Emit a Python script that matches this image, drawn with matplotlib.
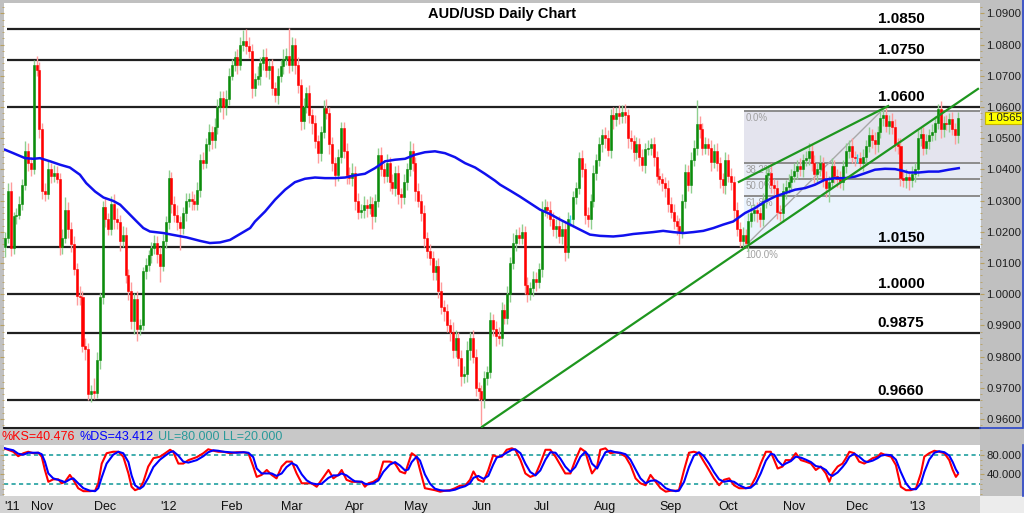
import numpy as np
import pandas as pd
import matplotlib
matplotlib.use("Agg")
import matplotlib.pyplot as plt
from matplotlib.patches import Rectangle
from matplotlib.lines import Line2D
from matplotlib.ticker import MultipleLocator, FuncFormatter
import matplotlib.transforms as mtransforms

plt.rcParams['font.family'] = ['Liberation Sans', 'DejaVu Sans']

# --- datos: cierres diarios AUD/USD (desde 13-oct-2011) ---
first_open = 1.0150
closes = [
    1.0180, 1.0330, 1.0148, 1.0250, 1.0255, 1.0290, 1.0350, 1.0460, 1.0420, 1.0400,
    1.0735, 1.0720, 1.0530, 1.0330, 1.0320, 1.0400, 1.0380, 1.0390, 1.0370, 1.0150,
    1.0180, 1.0270, 1.0210, 1.0160, 1.0080, 0.9995, 0.9990, 0.9835, 0.9825, 0.9680,
    0.9690, 0.9683, 0.9790, 0.9990, 1.0280, 1.0240, 1.0210, 1.0290, 1.0240, 1.0233,
    1.0170, 1.0190, 1.0060, 1.0010, 0.9913, 0.9985, 0.9890, 0.9900, 1.0073, 1.0095,
    1.0126, 1.0148, 1.0165, 1.0130, 1.0090, 1.0169, 1.0230, 1.0372, 1.0290, 1.0255,
    1.0230, 1.0212, 1.0260, 1.0300, 1.0305, 1.0300, 1.0290, 1.0335, 1.0430, 1.0420,
    1.0480, 1.0520, 1.0495, 1.0535, 1.0600, 1.0630, 1.0600, 1.0625, 1.0700, 1.0735,
    1.0760, 1.0735, 1.0800, 1.0810, 1.0795, 1.0778, 1.0660, 1.0690, 1.0700, 1.0740,
    1.0760, 1.0720, 1.0730, 1.0660, 1.0640, 1.0700, 1.0730, 1.0755, 1.0765, 1.0735,
    1.0800, 1.0735, 1.0671, 1.0555, 1.0600, 1.0645, 1.0575, 1.0550, 1.0490, 1.0452,
    1.0520, 1.0596, 1.0580, 1.0480, 1.0420, 1.0383, 1.0440, 1.0532, 1.0460, 1.0383,
    1.0372, 1.0390, 1.0300, 1.0265, 1.0270, 1.0285, 1.0276, 1.0290, 1.0250, 1.0300,
    1.0447, 1.0400, 1.0380, 1.0420, 1.0360, 1.0340, 1.0390, 1.0320, 1.0310, 1.0360,
    1.0400, 1.0460, 1.0420, 1.0330, 1.0300, 1.0260, 1.0180, 1.0140, 1.0115, 1.0070,
    1.0090, 1.0009, 0.9960, 0.9945, 0.9900, 0.9880, 0.9820, 0.9860, 0.9795, 0.9737,
    0.9745, 0.9820, 0.9860, 0.9800, 0.9700, 0.9690, 0.9665, 0.9730, 0.9750, 0.9918,
    0.9890, 0.9865, 0.9860, 0.9950, 0.9925, 1.0000, 1.0100, 1.0165, 1.0190, 1.0180,
    1.0200, 1.0030, 1.0000, 1.0020, 1.0050, 1.0040, 1.0080, 1.0270, 1.0280, 1.0270,
    1.0240, 1.0210, 1.0220, 1.0185, 1.0210, 1.0135, 1.0240, 1.0240, 1.0310, 1.0340,
    1.0436, 1.0400, 1.0255, 1.0240, 1.0300, 1.0390, 1.0430, 1.0480, 1.0510, 1.0500,
    1.0463, 1.0575, 1.0560, 1.0580, 1.0570, 1.0585, 1.0575, 1.0500, 1.0490, 1.0457,
    1.0480, 1.0440, 1.0415, 1.0465, 1.0470, 1.0480, 1.0440, 1.0380, 1.0370, 1.0355,
    1.0340, 1.0290, 1.0265, 1.0234, 1.0220, 1.0200, 1.0300, 1.0393, 1.0350, 1.0430,
    1.0470, 1.0545, 1.0530, 1.0470, 1.0480, 1.0470, 1.0425, 1.0460, 1.0420, 1.0370,
    1.0350, 1.0430, 1.0380, 1.0360, 1.0270, 1.0210, 1.0170, 1.0190, 1.0165, 1.0235,
    1.0260, 1.0270, 1.0260, 1.0240, 1.0300, 1.0383, 1.0390, 1.0350, 1.0340, 1.0265,
    1.0260, 1.0330, 1.0345, 1.0360, 1.0380, 1.0395, 1.0410, 1.0400, 1.0430, 1.0435,
    1.0460, 1.0420, 1.0385, 1.0400, 1.0420, 1.0370, 1.0340, 1.0360, 1.0410, 1.0380,
    1.0370, 1.0360, 1.0410, 1.0460, 1.0475, 1.0440, 1.0435, 1.0435, 1.0420, 1.0440,
    1.0475, 1.0510, 1.0495, 1.0480, 1.0520, 1.0565, 1.0575, 1.0540, 1.0555, 1.0535,
    1.0480, 1.0475, 1.0372, 1.0365, 1.0375, 1.0365, 1.0385, 1.0400, 1.0500, 1.0515,
    1.0470, 1.0490, 1.0510, 1.0520, 1.0550, 1.0595, 1.0530, 1.0550, 1.0545, 1.0560,
    1.0530, 1.0510, 1.0565,
]
# mechas por encima / por debajo del cuerpo, en pips
hi_pips = [
    20, 25, 30, 15, 20, 25, 20, 30, 25, 20,  16, 30, 25, 20, 25, 30, 20, 25, 20, 20,
    30, 40, 25, 20, 25, 20, 30, 20, 25, 20,  20, 40, 25, 15, 20, 30, 20, 25, 30, 35,
    20, 30, 25, 20, 30, 20, 25, 20, 15, 20,  15, 20, 25, 20, 20, 25, 20, 25, 20, 25,
    30, 20, 20, 25, 20, 25, 20, 25, 20, 25,  20, 25, 20, 30, 25, 20, 20, 30, 25, 20,
    20, 25, 25, 38, 40, 30, 25, 20, 30, 20,  25, 30, 20, 25, 20, 25, 20, 30, 25, 88,
    25, 20, 25, 20, 30, 20, 25, 20, 25, 20,  20, 25, 30, 20, 25, 20, 25, 20, 20, 25,
    25, 30, 20, 25, 20, 30, 20, 25, 20, 20,  20, 25, 20, 30, 20, 25, 20, 25, 20, 25,
    20, 30, 25, 20, 25, 20, 25, 20, 20, 25,  20, 25, 30, 20, 25, 20, 30, 25, 20, 25,
    25, 30, 20, 25, 25, 20, 20, 25, 20, 25,  20, 25, 30, 25, 20, 25, 20, 30, 20, 25,
    25, 20, 25, 20, 25, 20, 20, 30, 25, 20,  30, 25, 20, 30, 25, 20, 25, 15, 20, 20,
    20, 25, 20, 25, 20, 25, 20, 25, 20, 25,  25, 20, 25, 20, 25, 20, 25, 20, 25, 20,
    25, 20, 25, 20, 25, 20, 25, 20, 25, 20,  20, 25, 20, 25, 20, 25, 20, 25, 20, 25,
    25, 78, 25, 20, 25, 20, 25, 20, 25, 20,  20, 25, 20, 25, 20, 25, 20, 25, 20, 25,
    25, 20, 25, 20, 25, 20, 25, 30, 20, 25,  20, 25, 20, 25, 20, 25, 20, 25, 20, 25,
    25, 20, 25, 20, 25, 20, 25, 20, 25, 20,  20, 25, 20, 25, 20, 25, 20, 15, 20, 25,
    20, 25, 20, 25, 20, 25, 20, 25, 20, 25,  25, 20, 25, 20, 25, 20, 25, 20, 25, 20,
    20, 25, 20, 25, 20, 15, 25, 20, 25, 20,  25, 20, 20,
]
lo_pips = [
    30, 15, 25, 20, 25, 15, 20, 15, 25, 20,  15, 20, 30, 25, 20, 15, 25, 20, 15, 25,
    20, 15, 30, 25, 20, 30, 25, 20, 35, 20,  25, 20, 15, 30, 20, 25, 20, 20, 30, 25,
    30, 20, 25, 30, 25, 40, 40, 20, 15, 25,  20, 25, 20, 30, 50, 15, 20, 20, 30, 25,
    25, 70, 20, 25, 20, 30, 20, 20, 25, 20,  15, 20, 30, 25, 20, 15, 40, 25, 20, 15,
    20, 30, 15, 20, 25, 20, 30, 25, 20, 30,  20, 25, 30, 20, 25, 30, 20, 25, 20, 25,
    20, 30, 25, 30, 25, 20, 25, 35, 20, 30,  25, 20, 20, 30, 25, 35, 20, 20, 25, 30,
    20, 25, 30, 25, 20, 25, 30, 20, 40, 20,  20, 20, 25, 20, 30, 20, 25, 30, 35, 20,
    25, 20, 25, 30, 20, 25, 30, 25, 20, 25,  25, 20, 25, 30, 20, 30, 25, 20, 25, 30,
    20, 25, 30, 20, 25, 30, 84, 30, 20, 20,  25, 30, 20, 25, 20, 20, 25, 20, 25, 20,
    20, 30, 25, 20, 25, 30, 20, 25, 20, 25,  20, 25, 30, 20, 25, 30, 20, 20, 25, 20,
    20, 25, 30, 25, 30, 20, 25, 20, 25, 30,  20, 25, 30, 20, 25, 20, 25, 30, 25, 30,
    25, 30, 20, 25, 20, 25, 30, 25, 20, 25,  30, 25, 20, 25, 30, 40, 20, 25, 20, 25,
    20, 25, 30, 25, 20, 25, 30, 20, 25, 30,  25, 30, 20, 25, 30, 25, 20, 20, 17, 25,
    20, 25, 30, 25, 20, 25, 20, 25, 30, 25,  25, 30, 25, 20, 25, 20, 25, 20, 25, 20,
    20, 25, 30, 25, 20, 25, 30, 45, 20, 25,  25, 20, 25, 20, 25, 20, 25, 15, 20, 25,
    25, 20, 25, 30, 25, 20, 25, 20, 25, 20,  20, 25, 25, 20, 25, 30, 20, 25, 20, 25,
    25, 20, 25, 20, 25, 20, 30, 25, 20, 25,  20, 30, 25,
]

# media movil (linea azul)
ma_day = [0, 2.9, 7, 9.9, 12.2, 15.7, 19.2, 22.6, 26.1, 28.3,
          31.4, 34.3, 37.7, 40.1, 43, 45.9, 48.2, 50.5, 55.2, 58.6,
          63.3, 67.9, 71.4, 74.9, 78.4, 81.9, 85.4, 87.1, 90.6, 94.1,
          97.6, 101, 104.5, 108, 111.5, 115, 118.5, 121.9, 125.4, 128.9,
          132.4, 135.9, 139.4, 142.8, 146.3, 149.8, 153.3, 156.8, 160.3, 163.8,
          167.2, 170.7, 172.5, 176, 179.4, 182.9, 186.4, 189.9, 193.4, 196.9,
          200.3, 203.8, 207.3, 211.9, 215.4, 218.9, 222.4, 225.8, 229.3, 232.8,
          236.3, 239.8, 243.3, 246.8, 250.2, 253.7, 257.8, 261.3, 264.8, 268.3,
          271.8, 275.3, 278.7, 282.2, 285.7, 289.2, 292.7, 296.2, 299.7, 303.1,
          306.6, 310.1, 312.5, 314.8, 318.3, 321.8, 325.3, 328.8, 332.3]
ma_val = [1.0463, 1.0452, 1.0436, 1.0434, 1.0436, 1.0426, 1.0415, 1.0406, 1.0383, 1.0356,
          1.0329, 1.0310, 1.0299, 1.0287, 1.0260, 1.0233, 1.0212, 1.0201, 1.0196, 1.0190,
          1.0182, 1.0171, 1.0164, 1.0166, 1.0174, 1.0193, 1.0212, 1.0233, 1.0265, 1.0303,
          1.0335, 1.0359, 1.0370, 1.0374, 1.0372, 1.0372, 1.0374, 1.0381, 1.0386, 1.0404,
          1.0426, 1.0431, 1.0434, 1.0447, 1.0455, 1.0458, 1.0452, 1.0439, 1.0420, 1.0406,
          1.0386, 1.0364, 1.0351, 1.0332, 1.0313, 1.0292, 1.0271, 1.0257, 1.0239, 1.0223,
          1.0207, 1.0191, 1.0187, 1.0185, 1.0188, 1.0193, 1.0196, 1.0199, 1.0203, 1.0199,
          1.0196, 1.0199, 1.0203, 1.0212, 1.0223, 1.0233, 1.0260, 1.0276, 1.0297, 1.0313,
          1.0324, 1.0335, 1.0340, 1.0351, 1.0367, 1.0372, 1.0372, 1.0377, 1.0388, 1.0399,
          1.0402, 1.0401, 1.0396, 1.0390, 1.0390, 1.0393, 1.0393, 1.0399, 1.0404]

# niveles horizontales
levels = [1.0850, 1.0750, 1.0600, 1.0150, 1.0000, 0.9875, 0.9660]

# retroceso de Fibonacci
fib_low, fib_high = 1.0148, 1.0588
fib_start = 257.5
fib_ratios = [0.0, 0.382, 0.5, 0.618, 1.0]
fib_colors = ['#e4e4ee', '#e6eaf4', '#e8eef8', '#eaf3fd']

# lineas de tendencia (dia, precio)
support_x, support_y = [166.2, 339.0], [0.9575, 1.0658]
channel_x, channel_y = [255.7, 307.7], [1.0360, 1.0603]
diag_x, diag_y = [257.5, 305.6], [1.0151, 1.0590]

# estocastico
k_day = [-0.6, 0.6, 2.9, 4.6, 6.4, 8.1, 9.9, 11.6, 12.8, 13.9,
         15.1, 16.8, 18.6, 19.7, 20.9, 22.6, 23.8, 25.5, 27.3, 29.6,
         31.4, 32.5, 33.7, 35.4, 37.7, 39.5, 41.2, 43.0, 44.1, 45.3,
         47.0, 48.2, 49.9, 51.7, 54.0, 55.8, 57.5, 58.6, 60.4, 62.1,
         63.9, 66.8, 69.1, 70.8, 72.6, 74.3, 76.1, 78.4, 80.7, 83.1,
         84.8, 86.5, 87.7, 89.4, 91.2, 92.9, 94.6, 96.4, 98.1, 99.9,
         101.6, 103.4, 105.1, 106.8, 108.6, 110.3, 112.7, 114.4, 116.1, 117.3,
         119.0, 120.8, 121.9, 124.3, 125.4, 126.6, 128.3, 130.1, 131.8, 134.1,
         135.9, 137.6, 139.4, 140.5, 141.7, 143.4, 144.6, 146.3, 148.1, 149.8,
         151.6, 153.3, 155.0, 156.8, 158.5, 160.3, 162.0, 163.2, 164.9, 166.7,
         168.4, 170.1, 171.3, 173.1, 174.8, 176.6, 177.8, 179.6, 181.3, 183.0,
         184.8, 186.5, 188.3, 190.0, 191.8, 193.5, 195.2, 197.0, 198.7, 200.5,
         202.2, 203.4, 204.5, 206.3, 207.4, 209.2, 210.9, 212.7, 214.4, 216.2,
         217.9, 219.7, 221.4, 223.2, 224.9, 226.7, 228.4, 230.2, 231.9, 233.7,
         234.8, 236.6, 238.3, 240.0, 241.8, 243.5, 245.3, 247.0, 248.8, 250.5,
         252.3, 254.0, 255.8, 258.1, 259.8, 261.6, 263.3, 265.1, 266.8, 268.0,
         269.2, 270.9, 272.0, 273.8, 275.5, 277.3, 279.0, 280.8, 282.5, 284.2,
         286.0, 287.2, 288.3, 290.1, 291.8, 293.0, 294.2, 295.9, 297.6, 299.4,
         300.5, 302.3, 304.0, 305.2, 306.9, 308.7, 310.4, 312.1, 313.9, 315.6,
         317.4, 319.1, 320.3, 322.0, 323.8, 325.5, 327.3, 329.0, 330.2, 331.3,
         332.0]
ks_val = [93, 91, 86, 77, 83, 86, 83, 84, 76, 49,
          25, 30, 30, 22, 25, 39, 29, 12, 6, 6,
          7, 22, 62, 83, 86, 86, 76, 42, 15, 8,
          12, 25, 56, 73, 76, 83, 90, 86, 62, 62,
          69, 75, 83, 91, 88, 86, 86, 83, 85, 85,
          83, 56, 35, 39, 49, 39, 32, 56, 66, 66,
          42, 22, 22, 22, 15, 29, 49, 32, 39, 49,
          29, 25, 25, 25, 15, 22, 25, 32, 66, 66,
          62, 46, 42, 62, 83, 76, 49, 12, 10, 8,
          5, 7, 8, 12, 17, 17, 29, 46, 29, 25,
          49, 79, 76, 76, 90, 93, 90, 69, 42, 35,
          39, 62, 90, 90, 76, 59, 42, 42, 69, 93,
          86, 62, 42, 56, 90, 93, 83, 85, 83, 76,
          59, 32, 22, 18, 39, 25, 12, 5, 7, 7,
          8, 49, 84, 86, 83, 66, 49, 32, 18, 29,
          32, 18, 12, 12, 15, 35, 62, 86, 86, 69,
          52, 56, 69, 69, 83, 69, 66, 62, 49, 56,
          42, 25, 42, 56, 62, 73, 86, 83, 66, 62,
          66, 73, 76, 83, 79, 76, 59, 15, 8, 8,
          12, 42, 76, 83, 88, 86, 83, 69, 49, 35,
          40.476]
ds_val = [94, 92, 89, 82, 80, 84, 84, 84, 81, 66,
          42, 32, 29, 27, 24, 30, 32, 22, 12, 7,
          6, 12, 34, 62, 80, 86, 83, 65, 38, 18,
          11, 16, 33, 55, 70, 78, 85, 87, 78, 66,
          64, 69, 77, 85, 89, 88, 86, 85, 84, 85,
          84, 75, 52, 42, 42, 42, 37, 42, 55, 63,
          58, 40, 28, 22, 20, 21, 33, 38, 38, 42,
          38, 30, 26, 25, 21, 20, 22, 28, 45, 60,
          65, 58, 48, 50, 65, 76, 68, 40, 21, 11,
          8, 7, 7, 9, 13, 16, 22, 33, 37, 31,
          37, 60, 74, 78, 84, 90, 91, 83, 62, 45,
          38, 48, 70, 85, 84, 72, 56, 45, 55, 76,
          86, 78, 62, 52, 65, 85, 88, 85, 84, 81,
          70, 50, 32, 22, 27, 28, 22, 12, 8, 6,
          7, 25, 55, 78, 85, 77, 62, 45, 30, 25,
          27, 25, 18, 12, 13, 22, 42, 68, 82, 80,
          68, 58, 62, 67, 76, 74, 70, 65, 57, 55,
          49, 40, 37, 44, 55, 64, 76, 82, 76, 67,
          65, 68, 73, 78, 80, 79, 70, 45, 22, 10,
          10, 22, 45, 70, 84, 87, 85, 78, 65, 50,
          43.412]
stoch_ul, stoch_ll = 80.0, 20.0

# --- figura ---
W, H = 1024, 513
fig = plt.figure(figsize=(W / 100, H / 100), dpi=100, facecolor='#c0c0c0')


def caja(x0, y0, x1, y1):
    # rectangulo en pixeles (origen arriba-izquierda) -> fraccion de figura
    return [x0 / W, 1 - y1 / H, (x1 - x0) / W, (y1 - y0) / H]


def rect(x0, y0, x1, y1, color):
    l, b, w, h = caja(x0, y0, x1, y1)
    fig.add_artist(Rectangle((l, b), w, h, transform=fig.transFigure,
                             facecolor=color, edgecolor='none', zorder=-5))


rect(0, 428, 980, 445, '#c8c8c8')
rect(0, 496, 980, 513, '#d4d4d4')
rect(980, 496, 1024, 513, '#ececec')
for y0, y1 in [(0, 428), (445, 496)]:
    fig.add_artist(Line2D([1022.5 / W] * 2, [1 - y0 / H, 1 - y1 / H], color='#2a45c8',
                          lw=1.2, transform=fig.transFigure))
fig.add_artist(Line2D([980 / W, 1022 / W], [1 - 428 / H] * 2, color='#2a45c8',
                      lw=1.2, transform=fig.transFigure))

ax = fig.add_axes(caja(4, 3, 980, 428))
ax2 = fig.add_axes(caja(4, 445, 980, 496), sharex=ax)

x_lo, x_hi = -0.35, 339.7
ax.set_xlim(x_lo, x_hi)
ax.set_ylim(0.95712, 1.09333)
ax.set_facecolor('white')
for s in ['top', 'left', 'right']:
    ax.spines[s].set_visible(False)
ax.spines['bottom'].set_color('#202020')
ax.spines['bottom'].set_linewidth(1.5)

# zonas de Fibonacci
fib_levels = [fib_high - r * (fib_high - fib_low) for r in fib_ratios]
for i, col in enumerate(fib_colors):
    ax.fill_between([fib_start, x_hi + 5], fib_levels[i + 1], fib_levels[i],
                    color=col, lw=0, zorder=0.5)
ax.hlines(fib_levels, fib_start, x_hi + 5, colors='#8c8c8c', lw=1.4, zorder=1)
for r, lv in zip(fib_ratios, fib_levels):
    ax.annotate(f"{r * 100:.1f}%", (fib_start, lv), xytext=(1, -1.5),
                textcoords='offset points', ha='left', va='top',
                fontsize=7, color='#a0a0a0', zorder=1.5)

# niveles
ax.hlines(levels, 0.6, x_hi + 5, colors='#202020', lw=1.6, zorder=2)
for lv in levels:
    ax.annotate(f"{lv:.4f}", (312.2, lv), xytext=(0, 2), textcoords='offset points',
                ha='center', va='bottom', fontsize=11, fontweight='bold', zorder=7)

# velas
c = np.array(closes)
o = np.concatenate([[first_open], c[:-1]])
hi = np.maximum(o, c) + np.array(hi_pips) / 1e4
lo = np.minimum(o, c) - np.array(lo_pips) / 1e4
days = np.arange(len(c))
body_col = np.where(c > o, '#0c8c0c', np.where(c < o, '#ff0000', '#30d8e8'))
wick_col = np.where(c > o, '#8fcf8f', np.where(c < o, '#ff9c9c', '#30d8e8'))
ax.vlines(days, lo, hi, colors=wick_col, lw=1.0, zorder=3.5)
ax.bar(days, np.abs(c - o), bottom=np.minimum(o, c), width=0.7,
       color=body_col, edgecolor=body_col, linewidth=0.4, zorder=4)

# media movil
ax.plot(ma_day, ma_val, color='#1010ee', lw=1.8, zorder=5)

# tendencias
ax.plot(diag_x, diag_y, color='#a8a8a8', lw=1.0, zorder=1.6)
ax.plot(support_x, support_y, color='#1e961e', lw=1.6, zorder=6)
ax.plot(channel_x, channel_y, color='#1e961e', lw=1.6, zorder=6)

# eje de precios a la derecha
ax.yaxis.set_major_locator(MultipleLocator(0.01))
ax.yaxis.set_minor_locator(MultipleLocator(0.002))
ax.yaxis.set_major_formatter(FuncFormatter(lambda v, p: f"{v:.4f}"))
ax.tick_params(axis='y', which='both', left=True, right=True, labelleft=False,
               labelright=True, direction='out', color='#b8a060',
               labelsize=8.2, labelcolor='#202020', pad=1.5)
ax.tick_params(axis='y', which='major', length=3)
ax.tick_params(axis='y', which='minor', length=1.5)
ax.tick_params(axis='x', bottom=False, labelbottom=False)

# ultimo precio
tr = mtransforms.blended_transform_factory(ax.transAxes, ax.transData)
ax.text(1.0068, c[-1], f"{c[-1]:.4f}", transform=tr, ha='left', va='center',
        fontsize=8.2, color='#202020', zorder=10, clip_on=False,
        bbox=dict(boxstyle='square,pad=0.12', facecolor='#ffff00', edgecolor='#c8b400', lw=0.8))

fig.text(502 / W, 1 - 14 / H, 'AUD/USD Daily Chart', ha='center', va='center',
         fontsize=10.5, fontweight='bold')

# --- estocastico ---
ax2.set_ylim(-3.8, 99.7)
ax2.set_facecolor('white')
for s in ax2.spines.values():
    s.set_visible(False)
ax2.axhline(stoch_ul, color='#20a0a0', lw=1.2, ls=(0, (2.5, 2)), zorder=1)
ax2.axhline(stoch_ll, color='#20a0a0', lw=1.2, ls=(0, (2.5, 2)), zorder=1)
ax2.plot(k_day, ks_val, color='#ff0000', lw=1.5, zorder=2)
ax2.plot(k_day, ds_val, color='#0000ff', lw=1.5, zorder=3)
ax2.set_yticks([40, 80])
ax2.set_yticklabels(['40.000', '80.000'])
ax2.yaxis.set_minor_locator(MultipleLocator(10))
ax2.tick_params(axis='y', which='both', left=True, right=True, labelleft=False,
                labelright=True, direction='out', color='#b8a060',
                labelsize=8.2, labelcolor='#202020', pad=1.5)
ax2.tick_params(axis='y', which='major', length=3)
ax2.tick_params(axis='y', which='minor', length=1.5)

# etiquetas de meses
dates = pd.bdate_range('2011-10-13', periods=len(closes))
tick_pos, tick_lab = [x_lo], ["'11"]
for i in range(1, len(dates)):
    if dates[i].month != dates[i - 1].month:
        tick_pos.append(i)
        tick_lab.append(f"'{dates[i]:%y}" if dates[i].month == 1 else f"{dates[i]:%b}")
ax2.set_xticks(tick_pos)
ax2.set_xticklabels(tick_lab)
ax2.tick_params(axis='x', length=0, pad=3.5, labelsize=9, labelcolor='#101010')
ax2.get_xticklabels()[0].set_horizontalalignment('left')
ax2.set_xlim(x_lo, x_hi)

# cabecera del estocastico
header = [(f"%KS={ks_val[-1]:.3f}", '#ff0000'),
          (f"%DS={ds_val[-1]:.3f}", '#0000ff'),
          (f"UL={stoch_ul:.3f} LL={stoch_ll:.3f}", '#2a9a9a')]
renderer = fig.canvas.get_renderer()
xpix = 2
for txt, col in header:
    t = fig.text(xpix / W, 1 - 437.5 / H, txt, color=col, fontsize=9,
                 ha='left', va='center')
    xpix += t.get_window_extent(renderer).width + 4

fig.savefig('out.png', dpi=100, facecolor=fig.get_facecolor())
